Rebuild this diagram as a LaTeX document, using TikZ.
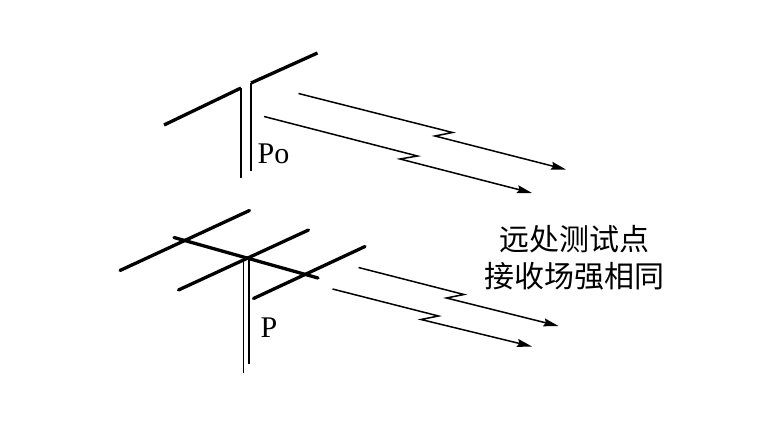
\documentclass[tikz,border=0pt]{standalone}
\usepackage{fontspec}
\setmainfont{Liberation Serif}
\newfontfamily\cjk{Noto Sans CJK SC}
\usetikzlibrary{arrows.meta}
\tikzset{
  element/.style={line width=3.3pt,line cap=round},
  mast/.style={line width=1.9pt},
  ray/.style={line width=1.5pt,line join=miter,-{Stealth[length=15pt,width=8pt,inset=2pt]}},
  antlabel/.style={inner sep=0pt,anchor=base west,font=\fontsize{30}{32}\selectfont},
  note/.style={inner sep=0pt,anchor=center,font=\cjk\fontsize{30}{33}\selectfont}
}
\begin{document}
\begin{tikzpicture}[x=1pt,y=-1pt]
\useasboundingbox (0,0) rectangle (778,420);
% top antenna
\coordinate (dl1) at (164,125); \coordinate (dl2) at (241,88);
\coordinate (dr1) at (251,83);  \coordinate (dr2) at (317.5,53);
\coordinate (ml) at (241,178);  \coordinate (mr) at (251,171);
\draw[element,line cap=butt] (dl1) -- (dl2);
\draw[element,line cap=butt] (dr1) -- (dr2);
\draw[mast] (dl2) -- (ml);
\draw[mast] (dr1) -- (mr);
\node[antlabel] (po) at (257.5,163) {Po};
% top rays
\coordinate (a1s) at (298.5,93.5); \coordinate (a1a) at (452.5,132.5); \coordinate (a1b) at (435,136); \coordinate (a1e) at (566,169.5);
\coordinate (a2s) at (264,116.5); \coordinate (a2a) at (417.5,156); \coordinate (a2b) at (400,159); \coordinate (a2e) at (532,193);
\draw[ray] (a1s) -- (a1a) -- (a1b) -- (a1e);
\draw[ray] (a2s) -- (a2a) -- (a2b) -- (a2e);
% bottom antenna
\coordinate (e1a) at (120,270.5); \coordinate (e1b) at (249.5,210.5);
\coordinate (e2a) at (178.5,290); \coordinate (e2b) at (308.5,230);
\coordinate (e3a) at (253.5,298.5); \coordinate (e3b) at (365,246.5);
\coordinate (ba) at (174,237.5); \coordinate (bb) at (318,278);
\coordinate (t1) at (243.5,258); \coordinate (t2) at (249,258);
\coordinate (m1) at (243.5,372.5); \coordinate (m2) at (249,363.5);
\draw[element] (e1a) -- (e1b);
\draw[element] (e2a) -- (e2b);
\draw[element] (e3a) -- (e3b);
\draw[element] (ba) -- (bb);
\draw[mast] (t1) -- (m1);
\draw[mast] (t2) -- (m2);
\node[antlabel] (p) at (260.5,337) {P};
% bottom rays
\coordinate (a3s) at (358.5,267.5); \coordinate (a3a) at (464,294.5); \coordinate (a3b) at (446.5,298); \coordinate (a3e) at (558.5,326);
\coordinate (a4s) at (332.5,289); \coordinate (a4a) at (438.5,316); \coordinate (a4b) at (421,319.5); \coordinate (a4e) at (532,346.5);
\draw[ray] (a3s) -- (a3a) -- (a3b) -- (a3e);
\draw[ray] (a4s) -- (a4a) -- (a4b) -- (a4e);
% text
\node[note] (n1) at (574,239.5) {远处测试点};
\node[note] (n2) at (574,276.5) {接收场强相同};
\end{tikzpicture}
\end{document}
